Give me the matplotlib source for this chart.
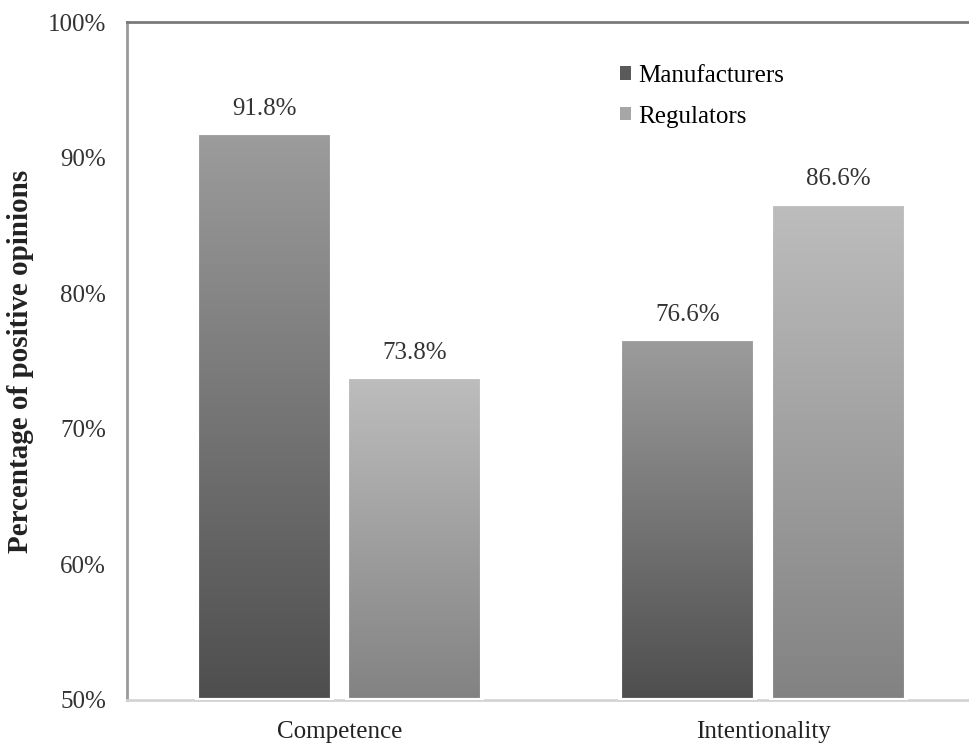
import numpy as np
import matplotlib
matplotlib.use("Agg")
import matplotlib.pyplot as plt
from matplotlib.patches import Patch
from matplotlib.colors import LinearSegmentedColormap

categories = ["Competence", "Intentionality"]
series_names = ["Manufacturers", "Regulators"]
manufacturers = [91.8, 76.6]
regulators = [73.8, 86.6]
value_labels_m = ["91.8%", "76.6%"]
value_labels_r = ["73.8%", "86.6%"]
yticks = [50, 60, 70, 80, 90, 100]
ytick_labels = ["50%", "60%", "70%", "80%", "90%", "100%"]

plt.rcParams["font.family"] = ["Liberation Serif", "DejaVu Serif"]

fig = plt.figure(figsize=(9.70, 7.47), dpi=100)
ax = fig.add_axes([0.131, 0.063, 0.869, 0.9075])

x = np.arange(len(categories))
width = 0.319
offset = 0.178

grad_m = LinearSegmentedColormap.from_list("gm", ["#4e4e4e", "#9c9c9c"])
grad_r = LinearSegmentedColormap.from_list("gr", ["#828282", "#bdbdbd"])
ramp = np.linspace(0, 1, 256).reshape(-1, 1)

def gradient_bars(xs, vals, cmap):
    bars = ax.bar(xs, [v - 50 for v in vals], width, bottom=50,
                  facecolor="none", edgecolor="white", linewidth=3, zorder=3)
    for b in bars:
        x0, y0 = b.get_x(), b.get_y()
        w, h = b.get_width(), b.get_height()
        im = ax.imshow(ramp, cmap=cmap, origin="lower", aspect="auto",
                       extent=[x0, x0 + w, y0, y0 + h], zorder=2,
                       interpolation="bicubic")
        im.set_clip_path(b)
    return bars

gradient_bars(x - offset, manufacturers, grad_m)
gradient_bars(x + offset, regulators, grad_r)

for xi, v, s in zip(x - offset, manufacturers, value_labels_m):
    ax.text(xi, v + 1.0, s, ha="center", va="bottom", fontsize=18, color="#333333")
for xi, v, s in zip(x + offset, regulators, value_labels_r):
    ax.text(xi, v + 1.0, s, ha="center", va="bottom", fontsize=18, color="#333333")

ax.set_xlim(-0.502, 1.489)
ax.set_ylim(50, 100)
ax.set_yticks(yticks)
ax.set_yticklabels(ytick_labels, fontsize=18, color="#333333")
ax.set_xticks(x)
ax.set_xticklabels(categories, fontsize=18, color="#222222")
ax.tick_params(axis="y", length=0, pad=15)
ax.tick_params(axis="x", length=0, pad=15)

ax.spines["right"].set_visible(False)
ax.spines["left"].set_color("#9a9a9a")
ax.spines["left"].set_linewidth(2)
ax.spines["top"].set_color("#7a7a7a")
ax.spines["top"].set_linewidth(2)
ax.spines["bottom"].set_color("#d4d4d4")
ax.spines["bottom"].set_linewidth(2)

ax.set_ylabel("Percentage of positive opinions", fontsize=21, fontweight="bold",
              color="#222222", labelpad=10)

handles = [Patch(facecolor="#5a5a5a", edgecolor="none"),
           Patch(facecolor="#a6a6a6", edgecolor="none")]
ax.legend(handles, series_names, loc="upper left", bbox_to_anchor=(0.558, 0.97),
          frameon=False, fontsize=18, handlelength=0.45, handleheight=0.45,
          handletextpad=0.3, labelspacing=0.75)

fig.savefig("out.png", dpi=100, facecolor="white")
